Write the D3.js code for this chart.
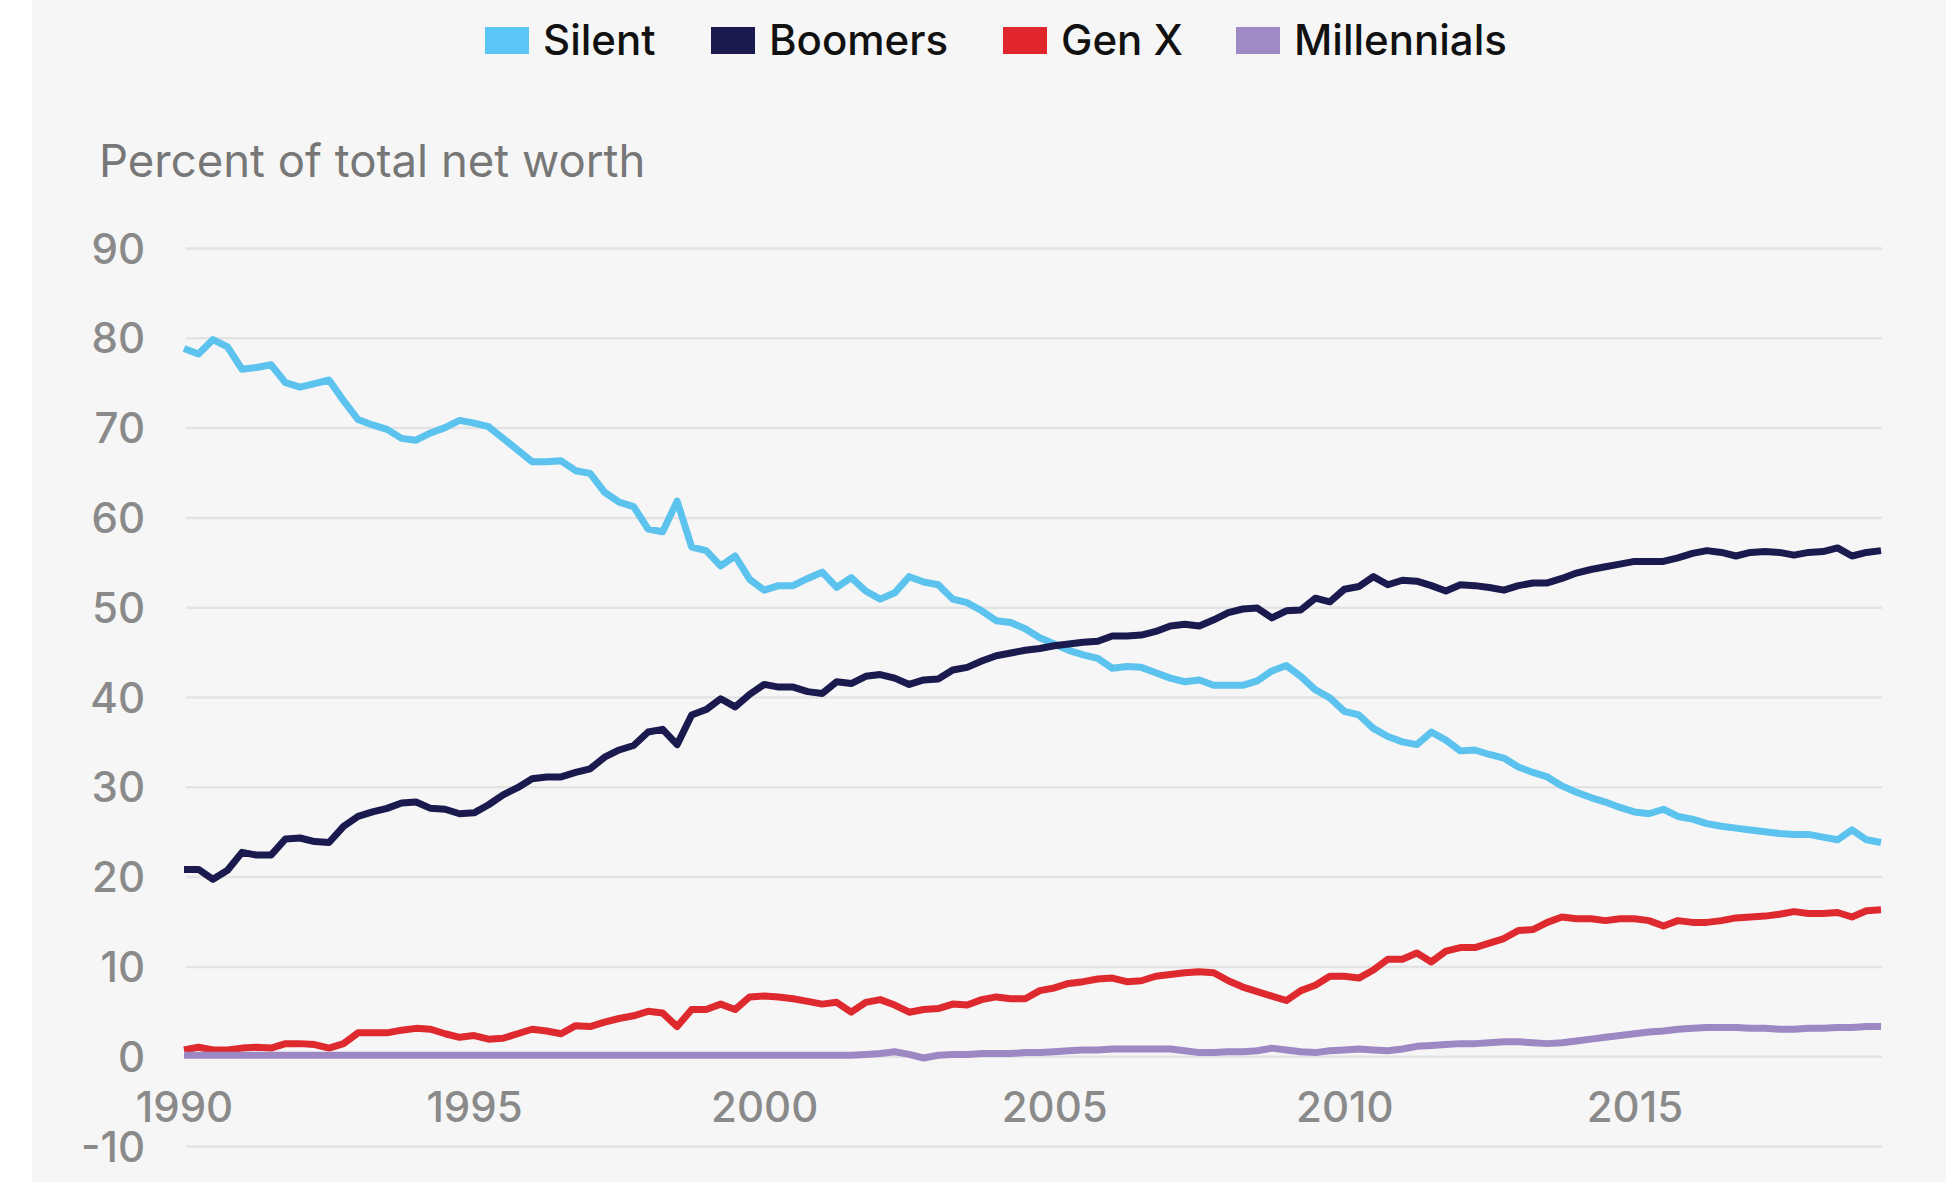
<!DOCTYPE html>
<html>
<head>
<meta charset="utf-8">
<script src="https://cdn.jsdelivr.net/npm/d3@7"></script>
<style>
  html, body { margin: 0; padding: 0; background: #ffffff; }
  svg { display: block; }
  text { font-family: Inter, "Noto Sans", sans-serif; }
</style>
</head>
<body>
<script>
// ---------- DATA (quarterly, 1990 Q1 – 2019 Q2) ----------
const startYear = 1990;
const seriesNames = ["Silent", "Boomers", "Gen X", "Millennials"];
const seriesColors = ["#5cc2ee", "#1b1a4f", "#de2a2f", "#9d88c4"];
const swatchColors = ["#5ac6f6", "#1b1a4f", "#e0262c", "#9f8ac6"];

const silent = [
  78.8, 78.2, 79.8, 79.0,
  76.5, 76.7, 77.0, 75.0,
  74.5, 74.9, 75.3, 73.0,
  70.9, 70.3, 69.8, 68.8,
  68.6, 69.4, 70.0, 70.8,
  70.5, 70.1, 68.8, 67.5,
  66.2, 66.2, 66.3, 65.2,
  64.9, 62.8, 61.7, 61.2,
  58.7, 58.4, 61.8, 56.7,
  56.3, 54.6, 55.7, 53.1,
  51.9, 52.4, 52.4, 53.2,
  53.9, 52.2, 53.3, 51.8,
  50.9, 51.6, 53.4, 52.8,
  52.5, 50.9, 50.5, 49.6,
  48.5, 48.3, 47.6, 46.6,
  45.9, 45.2, 44.7, 44.3,
  43.2, 43.4, 43.3, 42.7,
  42.1, 41.7, 41.9, 41.3,
  41.3, 41.3, 41.8, 42.9,
  43.5, 42.3, 40.8, 39.9,
  38.4, 38.0, 36.5, 35.6,
  35.0, 34.7, 36.1, 35.2,
  34.0, 34.1, 33.6, 33.2,
  32.2, 31.6, 31.1, 30.1,
  29.4, 28.8, 28.3, 27.7,
  27.2, 27.0, 27.5, 26.7,
  26.4, 25.9, 25.6, 25.4,
  25.2, 25.0, 24.8, 24.7,
  24.7, 24.4, 24.1, 25.2,
  24.1, 23.8
];

const boomers = [
  20.8, 20.8, 19.7, 20.7,
  22.7, 22.4, 22.4, 24.2,
  24.3, 23.9, 23.8, 25.6,
  26.7, 27.2, 27.6, 28.2,
  28.3, 27.6, 27.5, 27.0,
  27.1, 28.0, 29.1, 29.9,
  30.9, 31.1, 31.1, 31.6,
  32.0, 33.3, 34.1, 34.6,
  36.1, 36.4, 34.7, 38.0,
  38.6, 39.8, 38.9, 40.3,
  41.4, 41.1, 41.1, 40.6,
  40.4, 41.7, 41.5, 42.3,
  42.5, 42.1, 41.4, 41.9,
  42.0, 43.0, 43.3, 44.0,
  44.6, 44.9, 45.2, 45.4,
  45.7, 45.9, 46.1, 46.2,
  46.8, 46.8, 46.9, 47.3,
  47.9, 48.1, 47.9, 48.6,
  49.4, 49.8, 49.9, 48.8,
  49.6, 49.7, 51.0, 50.6,
  52.0, 52.3, 53.4, 52.5,
  53.0, 52.9, 52.4, 51.8,
  52.5, 52.4, 52.2, 51.9,
  52.4, 52.7, 52.7, 53.2,
  53.8, 54.2, 54.5, 54.8,
  55.1, 55.1, 55.1, 55.5,
  56.0, 56.3, 56.1, 55.7,
  56.1, 56.2, 56.1, 55.8,
  56.1, 56.2, 56.6, 55.7,
  56.1, 56.3
];

const genX = [
  0.7, 1.0, 0.7, 0.7,
  0.9, 1.0, 0.9, 1.4,
  1.4, 1.3, 0.9, 1.4,
  2.6, 2.6, 2.6, 2.9,
  3.1, 3.0, 2.5, 2.1,
  2.3, 1.9, 2.0, 2.5,
  3.0, 2.8, 2.5, 3.4,
  3.3, 3.8, 4.2, 4.5,
  5.0, 4.8, 3.3, 5.2,
  5.2, 5.8, 5.2, 6.6,
  6.7, 6.6, 6.4, 6.1,
  5.8, 6.0, 4.9, 6.0,
  6.3, 5.7, 4.9, 5.2,
  5.3, 5.8, 5.7, 6.3,
  6.6, 6.4, 6.4, 7.3,
  7.6, 8.1, 8.3, 8.6,
  8.7, 8.3, 8.4, 8.9,
  9.1, 9.3, 9.4, 9.3,
  8.4, 7.7, 7.2, 6.7,
  6.2, 7.3, 7.9, 8.9,
  8.9, 8.7, 9.6, 10.8,
  10.8, 11.5, 10.5, 11.7,
  12.1, 12.1, 12.6, 13.1,
  14.0, 14.1, 14.9, 15.5,
  15.3, 15.3, 15.1, 15.3,
  15.3, 15.1, 14.5, 15.1,
  14.9, 14.9, 15.1, 15.4,
  15.5, 15.6, 15.8, 16.1,
  15.9, 15.9, 16.0, 15.5,
  16.2, 16.3
];

const millennials = [
  0.1, 0.1, 0.1, 0.1,
  0.1, 0.1, 0.1, 0.1,
  0.1, 0.1, 0.1, 0.1,
  0.1, 0.1, 0.1, 0.1,
  0.1, 0.1, 0.1, 0.1,
  0.1, 0.1, 0.1, 0.1,
  0.1, 0.1, 0.1, 0.1,
  0.1, 0.1, 0.1, 0.1,
  0.1, 0.1, 0.1, 0.1,
  0.1, 0.1, 0.1, 0.1,
  0.1, 0.1, 0.1, 0.1,
  0.1, 0.1, 0.1, 0.2,
  0.3, 0.5, 0.2, -0.2,
  0.1, 0.2, 0.2, 0.3,
  0.3, 0.3, 0.4, 0.4,
  0.5, 0.6, 0.7, 0.7,
  0.8, 0.8, 0.8, 0.8,
  0.8, 0.6, 0.4, 0.4,
  0.5, 0.5, 0.6, 0.9,
  0.7, 0.5, 0.4, 0.6,
  0.7, 0.8, 0.7, 0.6,
  0.8, 1.1, 1.2, 1.3,
  1.4, 1.4, 1.5, 1.6,
  1.6, 1.5, 1.4, 1.5,
  1.7, 1.9, 2.1, 2.3,
  2.5, 2.7, 2.8, 3.0,
  3.1, 3.2, 3.2, 3.2,
  3.1, 3.1, 3.0, 3.0,
  3.1, 3.1, 3.2, 3.2,
  3.3, 3.3
];

const yTicks = [90, 80, 70, 60, 50, 40, 30, 20, 10, 0, -10];
const xTicks = [1990, 1995, 2000, 2005, 2010, 2015];
const yTitle = "Percent of total net worth";

// ---------- LAYOUT ----------
const W = 1946, H = 1182;
const svg = d3.select("body").append("svg").attr("width", W).attr("height", H);

svg.append("rect").attr("x", 32).attr("y", 0).attr("width", W - 32).attr("height", H).attr("fill", "#f6f6f6");

const allSeries = [silent, boomers, genX, millennials];
const n = silent.length;
const quarterOf = i => startYear + i / 4;

const x = d3.scaleLinear().domain([1990, 1990 + (n - 1) / 4]).range([184, 1881]);
const y = d3.scaleLinear().domain([-10, 90]).range([1146, 248]);

// gridlines
const grid = svg.append("g")
  .attr("transform", "translate(186,0)")
  .call(d3.axisLeft(y).tickValues(yTicks).tickSize(-(1882 - 186)).tickFormat(""));
grid.select(".domain").remove();
grid.selectAll(".tick line").attr("stroke", "#e3e3e3").attr("stroke-width", 2.5);

// y tick labels
const yAxis = svg.append("g").attr("transform", "translate(145,0)")
  .call(d3.axisLeft(y).tickValues(yTicks).tickSize(0).tickPadding(0).tickFormat(d => String(d)));
yAxis.select(".domain").remove();
yAxis.selectAll("text")
  .attr("font-family", "Inter, sans-serif")
  .attr("font-size", 42)
  .attr("font-weight", 500)
  .attr("fill", "#8a8a8a")
  .attr("dy", "0.36em");

// x tick labels
const xAxis = svg.append("g").attr("transform", "translate(0,1122)")
  .call(d3.axisBottom(x).tickValues(xTicks).tickFormat(d => String(d)).tickSize(0).tickPadding(0));
xAxis.select(".domain").remove();
xAxis.selectAll("text")
  .attr("font-family", "Inter, sans-serif")
  .attr("font-size", 42)
  .attr("font-weight", 500)
  .attr("fill", "#8a8a8a")
  .attr("dy", "0");

// y title
svg.append("text").attr("x", 99).attr("y", 177)
  .attr("font-size", 45.5).attr("fill", "#777777").text(yTitle);

// lines
const line = d3.line().x((d, i) => x(quarterOf(i))).y(d => y(d));
allSeries.forEach((s, k) => {
  svg.append("path").datum(s)
    .attr("d", line)
    .attr("fill", "none")
    .attr("stroke", seriesColors[k])
    .attr("stroke-width", 7)
    .attr("stroke-linejoin", "round")
    .attr("stroke-linecap", "butt");
});

// legend
const legend = svg.append("g");
const itemStarts = [485, 711, 1003, 1236];
seriesNames.forEach((name, k) => {
  const g = legend.append("g").attr("transform", `translate(${itemStarts[k]},0)`);
  g.append("rect").attr("x", 0).attr("y", 27).attr("width", 44).attr("height", 27).attr("fill", swatchColors[k]);
  g.append("text").attr("x", 58).attr("y", 55).attr("font-size", 42).attr("font-weight", 500).attr("fill", "#111111").text(name);
});
</script>
</body>
</html>
